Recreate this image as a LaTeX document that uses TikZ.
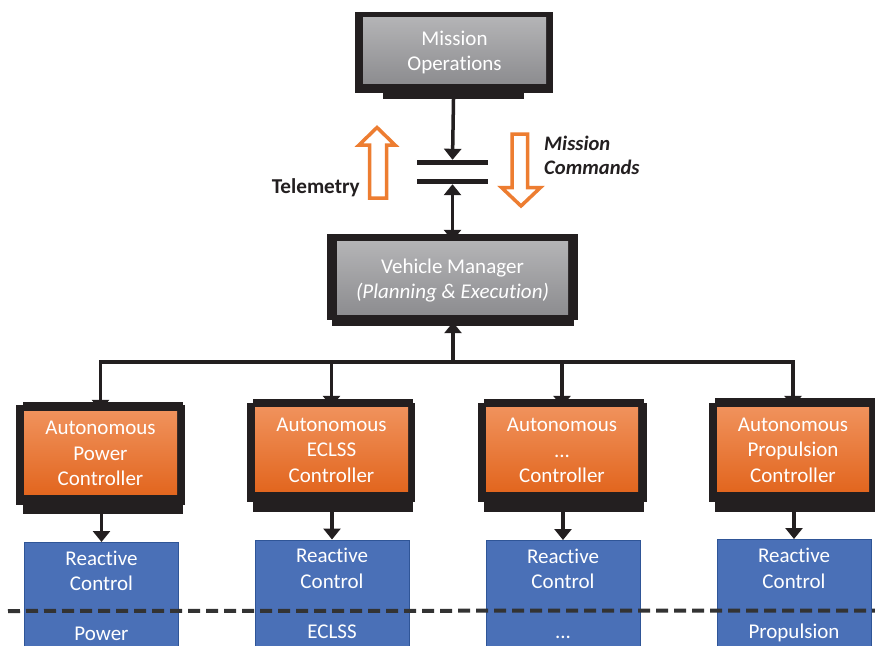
\documentclass[tikz,border=0pt]{standalone}
\usepackage{fontspec}
\setmainfont{Carlito}[Ligatures=NoCommon]
\usetikzlibrary{arrows.meta}

\definecolor{frameblack}{HTML}{231F20}
\definecolor{grayTop}{HTML}{B4B4B6}
\definecolor{grayBot}{HTML}{8D8D90}
\definecolor{orTop}{HTML}{F0925C}
\definecolor{orMid}{HTML}{F07E28}
\definecolor{orBot}{HTML}{E2661F}
\definecolor{rcBlue}{HTML}{4A70B7}
\definecolor{rcEdge}{HTML}{2F5597}
\definecolor{hollowOrange}{HTML}{ED7D31}
\definecolor{dashGray}{HTML}{333333}

\tikzset{
  frame/.style={fill=frameblack, draw=none, inner sep=0pt, minimum width=#1},
  panel/.style={draw=none, inner sep=0pt, text=white, align=center,
    font=\fontsize{21}{25.5}\selectfont},
  graypanel/.style={panel, top color=grayTop, bottom color=grayBot},
  orangepanel/.style={panel, top color=orTop, middle color=orMid, bottom color=orBot},
  rcbox/.style={fill=rcBlue, draw=rcEdge, line width=1pt, inner sep=0pt,
    minimum width=154pt, minimum height=120pt},
  rclabel/.style={text=white, align=center, inner sep=0pt,
    font=\fontsize{21}{25.5}\selectfont},
  link/.style={draw=frameblack, line width=3.5pt},
  linkarrow/.style={link, -{Triangle[width=17pt,length=11pt]}},
  bar/.style={fill=frameblack, draw=none, inner sep=0pt, minimum width=71pt, minimum height=5pt},
  hollow/.style={draw=hollowOrange, fill=white, line width=3.5pt, line join=miter},
}

\begin{document}
\begin{tikzpicture}[x=1pt,y=-1pt]
\clip (0,0) rectangle (875,645);
\fill[white] (0,0) rectangle (875,645);

% ---------- Mission Operations ----------
\node[frame=198pt, minimum height=81pt] (mo) at (454,52.5) {};
\node[frame=141pt, minimum height=7pt] (mob) at (453.5,95.5) {};
\node[graypanel, minimum width=183pt, minimum height=66pt] (moIn) at (454.5,50) {};
\node[panel] (moT) at (454.5,52.5) {Mission\\Operations};

% ---------- link bars ----------
\node[bar] (barTop) at (452.5,162.5) {};
\node[bar] (barBot) at (452.5,181.5) {};

% ---------- Vehicle Manager ----------
\node[frame=251pt, minimum height=86pt] (vm) at (452.5,277) {};
\node[frame=242pt, minimum height=7pt] (vmb) at (453,322.5) {};
\node[graypanel, minimum width=231pt, minimum height=73pt] (vmIn) at (452.5,277.5) {};
\node[panel] (vmT) at (452.5,280.5) {Vehicle Manager\\\itshape (Planning \& Execution)};

% ---------- hollow telemetry / command arrows ----------
\draw[hollow] (369.5,198) -- (369.5,145) -- (359,145) -- (377,127.5) -- (395,145)
  -- (386.5,145) -- (386.5,198) -- cycle;
\draw[hollow] (512,134) -- (512,187.5) -- (501.5,187.5) -- (521,206) -- (540.5,187.5)
  -- (527.5,187.5) -- (527.5,134) -- cycle;
\node[anchor=east, inner sep=0pt, font=\bfseries\fontsize{21.2}{24}\selectfont,
  text=frameblack] (tele) at (360,188) {Telemetry};
\node[anchor=west, inner sep=0pt, align=left,
  font=\bfseries\itshape\fontsize{20.6}{24}\selectfont, text=frameblack] (cmds) at (544,155)
  {Mission\\Commands};

% ---------- autonomous controllers ----------
% Power
\node[frame=169pt, minimum height=100pt] (pwr) at (100.5,455) {};
\node[frame=160pt, minimum height=112pt] (pwrb) at (103,458) {};
\node[orangepanel, minimum width=153pt, minimum height=83pt] (pwrIn) at (100.5,452.5) {};
\node[panel] (pwrT) at (100.5,453.5) {Autonomous\\Power\\Controller};
% ECLSS
\node[frame=168pt, minimum height=99pt] (ecl) at (331,452.5) {};
\node[frame=160pt, minimum height=113pt] (eclb) at (333,455.5) {};
\node[orangepanel, minimum width=153pt, minimum height=84pt] (eclIn) at (331.5,449) {};
\node[panel] (eclT) at (331.5,450) {Autonomous\\ECLSS\\Controller};
% generic
\node[frame=169pt, minimum height=99pt] (gen) at (562.5,452.5) {};
\node[frame=160pt, minimum height=113pt] (genb) at (564,455.5) {};
\node[orangepanel, minimum width=152pt, minimum height=84pt] (genIn) at (562,449) {};
\node[panel] (genT) at (562,450.5) {Autonomous\\...\\Controller};
% Propulsion
\node[frame=166pt, minimum height=99pt] (prp) at (792,452.5) {};
\node[frame=160pt, minimum height=114pt] (prpb) at (795,455) {};
\node[orangepanel, minimum width=152pt, minimum height=84pt] (prpIn) at (793,449) {};
\node[panel] (prpT) at (793,450) {Autonomous\\Propulsion\\Controller};

% ---------- reactive control boxes ----------
\node[rcbox, anchor=north] (rcPwr) at (101.5,542) {};
\node[rcbox, anchor=north] (rcEcl) at (332,539.5) {};
\node[rcbox, anchor=north] (rcGen) at (563,540) {};
\node[rcbox, anchor=north] (rcPrp) at (794,539) {};

\node[rclabel] (rcPwrT) at (101.5,571) {Reactive\\Control};
\node[rclabel] (rcEclT) at (332,568.5) {Reactive\\Control};
\node[rclabel] (rcGenT) at (563,569) {Reactive\\Control};
\node[rclabel] (rcPrpT) at (794,568.5) {Reactive\\Control};

\node[rclabel, anchor=base] (rcPwrS) at (101.5,640) {Power};
\node[rclabel, anchor=base] (rcEclS) at (332,638) {ECLSS};
\node[rclabel, anchor=base] (rcGenS) at (563,638) {...};
\node[rclabel, anchor=base] (rcPrpS) at (794,638) {Propulsion};

% ---------- boundary ----------
\coordinate (dashL) at (8,611);
\coordinate (dashR) at (875,610.5);
\draw[dashGray, line width=4pt, dash pattern=on 12pt off 6pt] (dashL) -- (dashR);

% ---------- connectors ----------
\draw[linkarrow] (mob.south) -- (barTop.north);
\draw[link, {Triangle[width=17pt,length=11pt]}-{Triangle[width=17pt,length=11pt]}]
  (barBot.south) -- (vmIn.north);

\coordinate (busC) at (453,362);
\coordinate (busL) at (100.5,362);
\coordinate (busE) at (331.5,362);
\coordinate (busG) at (562,362);
\coordinate (busR) at (793,362);
\draw[link, line cap=rect, line join=miter] (busL) -- (busR);
\draw[linkarrow, shorten >=-4pt] (busC) -- (vmb.south);
\draw[linkarrow] (busL) -- (pwrIn.north);
\draw[linkarrow] (busE) -- (eclIn.north);
\draw[linkarrow] (busG) -- (genIn.north);
\draw[linkarrow] (busR) -- (prpIn.north);

\draw[linkarrow] (pwrb.south -| rcPwr.north) -- (rcPwr.north);
\draw[linkarrow] (eclb.south -| rcEcl.north) -- (rcEcl.north);
\draw[linkarrow] (genb.south -| rcGen.north) -- (rcGen.north);
\draw[linkarrow] (prpb.south -| rcPrp.north) -- (rcPrp.north);
\end{tikzpicture}
\end{document}
